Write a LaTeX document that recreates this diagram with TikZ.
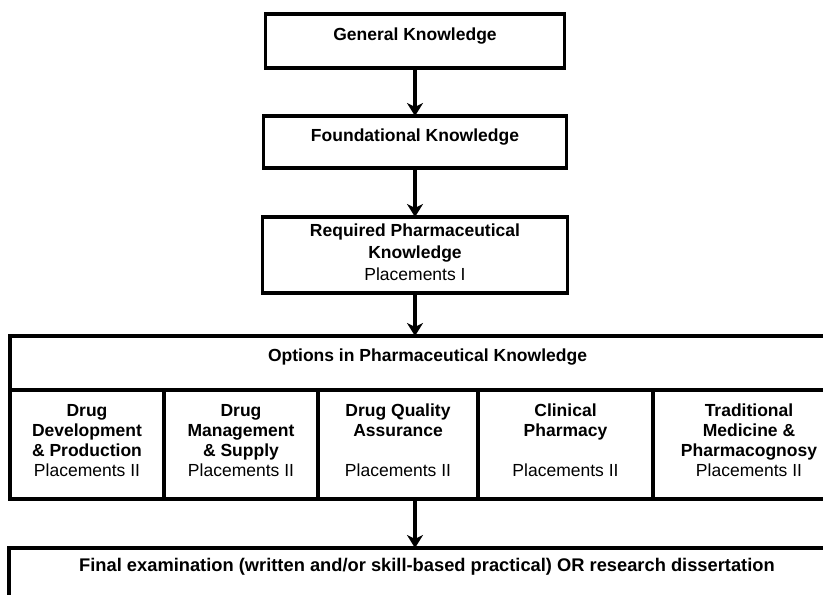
\documentclass[tikz,border=0pt]{standalone}
\usepackage{fontspec}
\setmainfont{Liberation Sans}
\usetikzlibrary{arrows.meta,positioning}

\tikzset{
  box/.style={draw, line width=3.2pt, inner sep=0pt, outer sep=0pt, align=center,
    font=\bfseries\fontsize{17.5}{21}\selectfont},
  optbox/.style={box, font=\bfseries\fontsize{17.5}{20}\selectfont, text height=86pt, text depth=23pt},
  flow/.style={line width=3.4pt, -{Stealth[length=13pt,width=16pt,inset=4pt]}}
}

\begin{document}
\begin{tikzpicture}[x=1pt,y=-1pt]
\useasboundingbox (0,0) rectangle (823,595);
\clip (0,0) rectangle (823,595);

% knowledge levels
\node[box, anchor=north, minimum width=299pt, text height=26pt, text depth=28pt] (gen) at (415,14) {General Knowledge};
\node[box, anchor=north, minimum width=303pt, text height=25pt, text depth=27pt] (found) at (415,116) {Foundational Knowledge};
\node[box, anchor=north, minimum width=305pt, font=\bfseries\fontsize{17.5}{22}\selectfont,
  text height=63pt, text depth=13pt] (req) at (415,217)
  {Required Pharmaceutical\\Knowledge\\\mdseries Placements I};

% options
\node[box, anchor=north west, minimum width=835pt, text height=25pt, text depth=29pt] (opt) at (10,336)
  {Options in Pharmaceutical Knowledge};
\node[optbox, anchor=north west, minimum width=154pt] (dev) at (10,390)
  {Drug\\Development\\\& Production\\\mdseries Placements II};
\node[optbox, minimum width=154pt, right=0pt of dev] (mgmt)
  {Drug\\Management\\\& Supply\\\mdseries Placements II};
\node[optbox, minimum width=160pt, right=0pt of mgmt] (qa)
  {Drug Quality\\Assurance\\[20pt]\mdseries Placements II};
\node[optbox, minimum width=175pt, right=0pt of qa] (clin)
  {Clinical\\Pharmacy\\[20pt]\mdseries Placements II};
\node[optbox, minimum width=192pt, right=0pt of clin] (trad)
  {Traditional\\Medicine \&\\Pharmacognosy\\\mdseries Placements II};

% final
\node[box, anchor=north west, minimum width=836pt, font=\bfseries\fontsize{18.3}{21}\selectfont,
  text height=23pt, text depth=40pt] (final) at (9,548)
  {Final examination (written and/or skill-based practical) OR research dissertation};

\draw[flow] (gen) -- (found);
\draw[flow] (found) -- (req);
\draw[flow] (req) -- (req |- opt.north);
\draw[flow] (qa.south -| req.south) -- (final.north -| req.south);
\end{tikzpicture}
\end{document}
